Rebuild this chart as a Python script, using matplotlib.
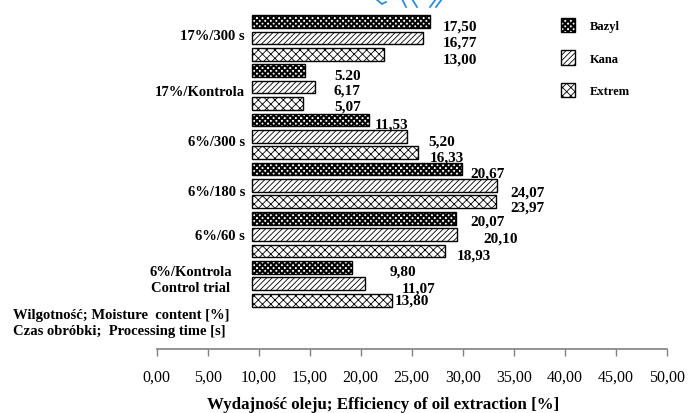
import numpy as np
import matplotlib
matplotlib.use('Agg')
import matplotlib.pyplot as plt
import matplotlib.hatch as mhatch
from matplotlib.path import Path
from matplotlib.lines import Line2D

# ---------------- data ----------------
categories = ["17%/300 s", "17%/Kontrola", "6%/300 s", "6%/180 s", "6%/60 s", "6%/Kontrola"]
category_note = "Control trial"
series = ["Bazyl", "Kana", "Extrem"]
bazyl = [17.50, 5.20, 11.53, 20.67, 20.07, 9.80]
kana = [16.77, 6.17, 15.20, 24.07, 20.10, 11.07]
extrem = [13.00, 5.07, 16.33, 23.97, 18.93, 13.80]
bazyl_labels = ["17,50", "5.20", "11,53", "20,67", "20,07", "9,80"]
kana_labels = ["16,77", "6,17", "5,20", "24,07", "20,10", "11,07"]
extrem_labels = ["13,00", "5,07", "16,33", "23,97", "18,93", "13,80"]
xticks = [0, 5, 10, 15, 20, 25, 30, 35, 40, 45, 50]
xtick_labels = ["0,00", "5,00", "10,00", "15,00", "20,00", "25,00",
                "30,00", "35,00", "40,00", "45,00", "50,00"]
xlabel = "Wydajność oleju; Efficiency of oil extraction [%]"
note1 = "Wilgotność; Moisture  content [%]"
note2 = "Czas obróbki;  Processing time [s]"

# ---------------- layout (pixels of a 690x414 canvas) ----------------
W, H = 690, 414
BAR_START = 9.31  # bars in the original start off the axis origin
# value label left edge / centre (px), in bar order (group by group, Bazyl/Kana/Extrem)
label_px = [(443, 27), (443, 43), (443, 60),
            (334, 76), (334, 91), (334, 107),
            (375, 125), (428, 142), (430, 158),
            (470, 174), (510, 193), (510, 208),
            (470, 222), (483, 239), (457, 256),
            (390, 272), (402, 289), (395, 301)]
cat_px = [(245, 37), (245, 93), (245, 143), (245, 192), (245, 237), (191, 272)]


def fx(px):
    return px / W


def fy(py):
    return 1 - py / H


# ---------------- custom checkerboard hatch on '*' ----------------
class Checker(mhatch.HatchPatternBase):
    def __init__(self, hatch, density):
        self.n = int(hatch.count('*') * density)
        self.num_vertices = self.n * self.n * 2 * 5

    def set_vertices_and_codes(self, vertices, codes):
        n = self.n
        s = 1.0 / (2 * n)
        sq = np.array([[0, 0], [1, 0], [1, 1], [0, 1], [0, 0]], float) * s
        c = [Path.MOVETO, Path.LINETO, Path.LINETO, Path.LINETO, Path.CLOSEPOLY]
        k = 0
        for i in range(2 * n):
            for j in range(2 * n):
                if (i + j) % 2 == 0:
                    vertices[k:k + 5] = sq + [i * s, j * s]
                    codes[k:k + 5] = c
                    k += 5


mhatch._hatch_types = [t for t in mhatch._hatch_types if t is not mhatch.Stars] + [Checker]

plt.rcParams['font.family'] = ['Liberation Serif', 'DejaVu Serif']
plt.rcParams['hatch.linewidth'] = 0.6

fig = plt.figure(figsize=(6.9, 4.14), dpi=100)
ax = fig.add_axes([156.7 / W, (H - 350) / H, 510 / W, 350 / H])
ax.set_xlim(0, 50)
ax.set_ylim(19.97, -1.372)

n = len(categories)
hatches = ['***', '//////', 'xxxx']
all_vals = [bazyl, kana, extrem]
all_labels = [bazyl_labels, kana_labels, extrem_labels]
for s, (vals, hatch, name) in enumerate(zip(all_vals, hatches, series)):
    ax.barh(np.arange(n) * 3 + s, vals, left=BAR_START, height=0.78,
            color='white', edgecolor='black', hatch=hatch, linewidth=1.0,
            label=name, zorder=2)

# value labels
for g in range(n):
    for s in range(3):
        px, py = label_px[g * 3 + s]
        ax.text(fx(px), fy(py), all_labels[s][g], transform=fig.transFigure,
                ha='left', va='center', fontsize=11, fontweight='bold',
                zorder=1, clip_on=False)

# category labels
for g, cat in enumerate(categories):
    px, py = cat_px[g]
    if g == n - 1:
        ax.text(fx(px), fy(py), cat, transform=fig.transFigure, ha='center',
                va='center', fontsize=10.5, fontweight='bold', clip_on=False)
        ax.text(fx(px), fy(289), category_note, transform=fig.transFigure,
                ha='center', va='center', fontsize=10.5, fontweight='bold',
                clip_on=False)
    else:
        ax.text(fx(px), fy(py), cat, transform=fig.transFigure, ha='right',
                va='center', fontsize=10.5, fontweight='bold', clip_on=False)

fig.text(fx(13), fy(315), note1, ha='left', va='center', fontsize=10.5, fontweight='bold')
fig.text(fx(13), fy(332), note2, ha='left', va='center', fontsize=10.5, fontweight='bold')

# axes styling
for side in ['left', 'top', 'right']:
    ax.spines[side].set_visible(False)
ax.spines['bottom'].set_color('#808080')
ax.spines['bottom'].set_linewidth(1.2)
ax.set_yticks([])
ax.set_xticks(xticks)
ax.set_xticklabels(xtick_labels)
ax.tick_params(axis='x', direction='out', length=5, width=1, color='#808080',
               pad=9, labelsize=11.5)
ax.patch.set_alpha(0)

fig.text(fx(383), fy(405), xlabel, ha='center', va='center', fontsize=12.2,
         fontweight='bold')

# legend
ax.legend(loc='upper left', bbox_to_anchor=(fx(561), fy(19)),
          bbox_transform=fig.transFigure, frameon=False,
          prop=dict(weight='bold', size=9), handlelength=1.12,
          handleheight=1.36, labelspacing=1.46, handletextpad=1.2,
          borderaxespad=0, borderpad=0)

# blue fragment at the top edge
blue = '#2a8fd8'
for xs, ys in [([376, 382, 386], [0, 5, 3]), ([402, 406], [0, 8]),
               ([412, 417], [0, 8]), ([436, 430], [0, 8]), ([442, 436], [0, 8])]:
    fig.add_artist(Line2D([fx(x) for x in xs], [fy(y) for y in ys],
                          color=blue, lw=1.3, transform=fig.transFigure))

fig.savefig('out.png', dpi=100)
